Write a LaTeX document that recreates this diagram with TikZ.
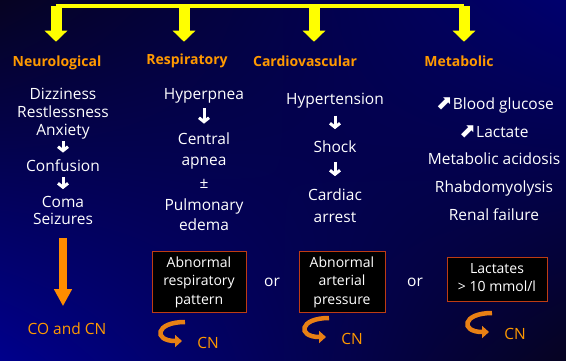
\documentclass[tikz,border=0pt]{standalone}
\usepackage{fontspec}
\setmainfont{Open Sans}
\newfontfamily\symbfont{DejaVu Sans}
\usetikzlibrary{arrows.meta,shadings}
\definecolor{headorange}{RGB}{255,153,0}
\definecolor{turnorange}{RGB}{232,128,20}
\definecolor{bigorange}{RGB}{255,140,0}
\definecolor{boxred}{RGB}{190,60,20}
\definecolor{dropyellow}{RGB}{255,255,0}
\definecolor{bgdark}{RGB}{6,3,34}
\definecolor{bgblue}{RGB}{0,0,110}
\definecolor{bgdeep}{RGB}{0,0,140}

\begin{document}
\begin{tikzpicture}[x=1pt, y=-1pt,
    every node/.style={text=white, align=center, inner sep=1pt, text depth=3.5pt,
      font=\fontsize{15.5}{18}\selectfont},
    heading/.style={text=headorange, font=\fontsize{14}{16}\selectfont\bfseries},
    hint/.style={text=headorange},
    signbox/.style={draw=boxred, line width=1pt, fill=black, inner sep=2pt,
      font=\fontsize{14}{18.5}\selectfont},
    down/.style={draw=white, line width=3pt,
      -{Straight Barb[length=4pt,width=10pt,line width=3pt]}},
    drop/.style={draw=dropyellow, line width=11pt, -{Triangle[length=11pt,width=22pt]}},
    bigdrop/.style={draw=bigorange, line width=8pt, -{Triangle[length=17pt,width=17pt]}},
    turn/.style={draw=turnorange, line width=4.5pt, -{Triangle[length=7pt,width=12pt]}}]

    % fond
    \shade[upper left=bgdark, upper right=bgblue, lower left=bgdeep, lower right=bgdark]
      (0,0) rectangle (566,360);
    \useasboundingbox (0,0) rectangle (566,360);

    % Titres
    \node[heading] (neuro) at (57,63) {Neurological};
    \node[heading] (resp) at (187,61) {Respiratory};
    \node[heading] (cardio) at (305,63) {Cardiovascular};
    \node[heading] (metab) at (459,63) {Metabolic};

    % Barre jaune
    \coordinate (bar1) at (56,6);
    \coordinate (bar2) at (184,6);
    \coordinate (bar3) at (314,6);
    \coordinate (bar4) at (464,6);
    \draw[dropyellow, line width=3.5pt] (bar1) -- (bar4);
    \foreach \b/\h/\s in {bar1/neuro/13, bar2/resp/11, bar3/cardio/13, bar4/metab/13} {
        \draw[drop, shorten >=\s pt] (\b) -- (\b |- \h.north);
    }

    % Neurological
    \node (dizzy) at (63,114) {Dizziness\\Restlessness\\Anxiety};
    \node (confusion) at (63,167) {Confusion};
    \node[font=\fontsize{15.5}{16.5}\selectfont] (coma) at (63,212) {Coma\\Seizures};
    \node[hint] (coandcn) at (67,330) {CO and CN};
    \draw[down, shorten <=0.5pt, shorten >=5.5pt] (dizzy) -- (confusion);
    \draw[down, shorten <=1pt, shorten >=6pt] (confusion) -- (coma);
    \draw[bigdrop, shorten <=9pt, shorten >=15pt] (coma) -- (coma |- coandcn.north);

    % Respiratory
    \node (hyperpnea) at (204,96) {Hyperpnea};
    \node[font=\fontsize{15.5}{21}\selectfont] (apnea) at (204,151) {Central\\apnea};
    \node (plusminus) at (204,186) {±};
    \node[font=\fontsize{15.5}{20}\selectfont] (edema) at (204,216) {Pulmonary\\edema};
    \draw[down, shorten <=4pt, shorten >=8pt] (hyperpnea) -- (apnea);

    % Cardiovascular
    \node (hypertension) at (335,101) {Hypertension};
    \node (shock) at (335,148) {Shock};
    \node[font=\fontsize{15.5}{22}\selectfont] (arrest) at (335,207) {Cardiac\\arrest};
    \draw[down, shorten <=6pt, shorten >=10pt] (hypertension) -- (shock);
    \draw[down, shorten <=5pt, shorten >=11pt] (shock) -- (arrest);

    % Metabolic
    \node (glucose) at (495,105) {{\symbfont\fontsize{20}{18}\selectfont ⬈}Blood glucose};
    \node (lactate) at (494,133) {{\symbfont\fontsize{20}{18}\selectfont ⬈}Lactate};
    \node (acidosis) at (494,160) {Metabolic acidosis};
    \node (rhabdo) at (494,188) {Rhabdomyolysis};
    \node (renal) at (494,216) {Renal failure};

    % Criteres
    \node[signbox, minimum width=94pt, minimum height=61pt] (respbox) at (199,282)
        {Abnormal\\respiratory\\pattern};
    \node[signbox, minimum width=86pt, minimum height=61pt] (artbox) at (342,282)
        {Abnormal\\arterial\\pressure};
    \node[signbox, minimum width=100pt, minimum height=44pt] (lactbox) at (497,279)
        {Lactates\\> 10 mmol/l};
    \node (or1) at (272,284) {or};
    \node (or2) at (415,284) {or};

    % CN
    \node[hint] (cn1) at (208,345) {CN};
    \node[hint] (cn2) at (352,341) {CN};
    \node[hint] (cn3) at (515,336) {CN};
    \foreach \c in {cn1, cn2, cn3} {
        \draw[turn, shift={(\c.center)}] (-23,-23) .. controls (-53,-23) and (-55,-4) .. (-26,-4);
    }
\end{tikzpicture}
\end{document}
